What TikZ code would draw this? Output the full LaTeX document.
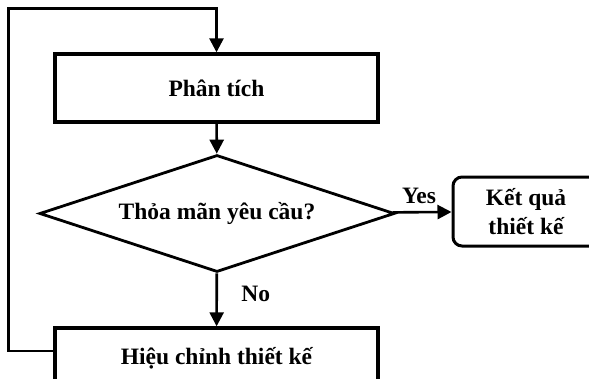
\documentclass[tikz,border=0pt]{standalone}
\usepackage{fontspec}
\setmainfont{Liberation Serif}
\usetikzlibrary{arrows.meta, positioning, shapes.geometric}

\begin{document}
\begin{tikzpicture}[
        x=1pt, y=-1pt,
        font=\fontsize{23.5}{29}\selectfont\bfseries,
        block/.style={rectangle, draw, line width=3.4pt, minimum width=323pt, minimum height=68pt},
        decision/.style={diamond, draw, line width=2.8pt, shape aspect=3, inner sep=0pt, minimum width=355pt, minimum height=117pt},
        result/.style={rectangle, rounded corners=9pt, draw, line width=3pt, minimum width=146pt, minimum height=69pt, align=center},
        line/.style={line width=2.6pt},
        >={Triangle[length=14pt, width=14pt]}]
    \path[use as bounding box, clip] (0,0) rectangle (589,378);

    \node[block] (phantich) at (216.5,88) {Phân tích};
    \node[decision] (thoaman) at (217,213.5) {Thỏa mãn yêu cầu?};
    \node[result] (ketqua) at (526,211.5) {Kết quả\\thiết kế};
    \node[block, minimum height=60pt] (hieuchinh) at (216.5,358) {Hiệu chỉnh thiết kế};

    \draw[line, ->] (phantich) -- (thoaman);
    \draw[line, ->] (thoaman) -- node[above=4pt, xshift=-3pt] {Yes} (ketqua);
    \draw[line, ->] (thoaman) -- node[pos=0.38, right=20pt] {No} (hieuchinh);
    \draw[line, ->] ([yshift=7pt]hieuchinh.west) -- ++(-45,0) |- ([yshift=44pt]phantich.north) -- (phantich.north);

    \end{tikzpicture}
\end{document}
